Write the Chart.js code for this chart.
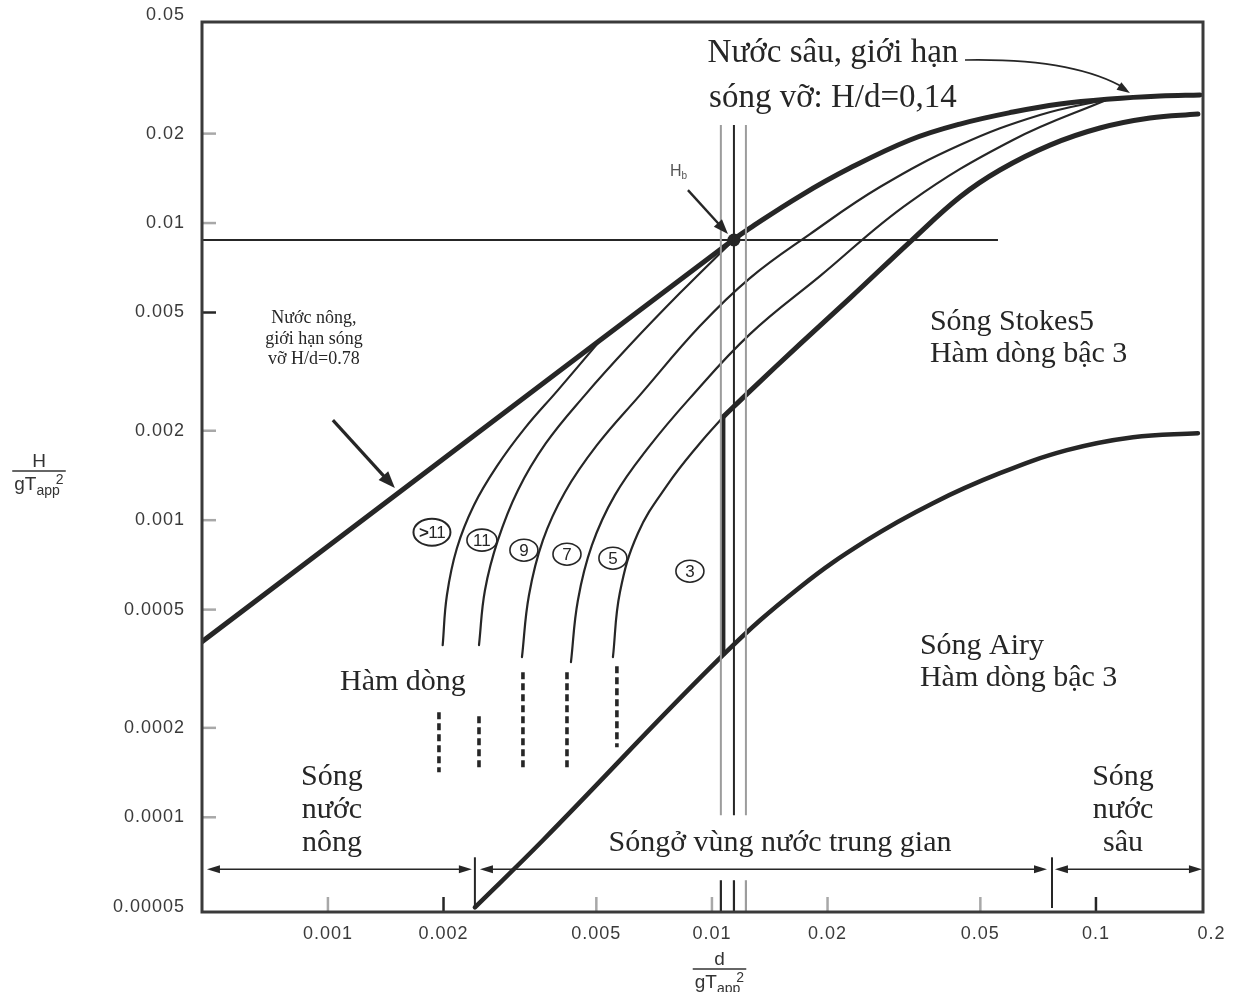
<!DOCTYPE html>
<html>
<head>
<meta charset="utf-8">
<script src="https://cdn.jsdelivr.net/npm/chart.js@4.4.1/dist/chart.umd.min.js"></script>
<style>
  html, body { margin: 0; padding: 0; background: #fff; }
  #wrap { width: 1238px; height: 992px; }
</style>
</head>
<body>
<div id="wrap"><canvas id="chart"></canvas></div>
<script>
/* ========= DATA ========= */
const xTicks = [0.001, 0.002, 0.005, 0.01, 0.02, 0.05, 0.1, 0.2];
const yTicks = [0.00005, 0.0001, 0.0002, 0.0005, 0.001, 0.002, 0.005, 0.01, 0.02, 0.05];
const darkXTicks = [0.002, 0.1];
const darkYTicks = [0.005];
const xRange = [0.00047, 0.19];
const yRange = [0.000048, 0.0475];

// breaking limit: H/d = 0.78 (shallow) -> H/d = 0.14 (deep)
const breakLimit = [[0.00047, 0.00039], [0.002315, 0.001859], [0.01134, 0.00877], [0.01256, 0.00962],
  [0.01695, 0.01233], [0.02288, 0.01531], [0.03278, 0.01904], [0.04423, 0.02154], [0.06079, 0.02364],
  [0.08057, 0.02516], [0.1088, 0.02616], [0.1468, 0.02677], [0.1866, 0.02698]];

// stream function order boundaries
const bound11 = [[0.00199, 0.0003794], [0.002041, 0.0005589], [0.002167, 0.0008047], [0.0024, 0.001123],
  [0.002755, 0.00152], [0.003258, 0.002041], [0.003972, 0.00274], [0.005048, 0.003945]];
const bound9 = [[0.002474, 0.0003794], [0.002564, 0.0005811], [0.002771, 0.0008565], [0.003125, 0.001262],
  [0.003695, 0.001816], [0.00467, 0.002636], [0.006116, 0.003884], [0.008254, 0.005811],
  [0.01134, 0.00872]];
const bound7 = [[0.003201, 0.0003457], [0.003338, 0.0005589], [0.00363, 0.0008565], [0.004142, 0.001242],
  [0.005017, 0.001788], [0.006494, 0.002636], [0.009304, 0.0045], [0.01256, 0.00653],
  [0.018, 0.00918], [0.02738, 0.01322], [0.04423, 0.0183], [0.07146, 0.0231], [0.1088, 0.0262]];
const bound5 = [[0.004294, 0.0003326], [0.004477, 0.0005378], [0.00487, 0.0008236], [0.005589, 0.001214],
  [0.006812, 0.001747], [0.008763, 0.002575], [0.01256, 0.00423], [0.01911, 0.006629],
  [0.03278, 0.01177], [0.06079, 0.01904], [0.1075, 0.0261]];
const bound3 = [[0.005523, 0.0003457], [0.00576, 0.0005722], [0.006416, 0.000904], [0.00768, 0.001322],
  [0.009304, 0.001816], [0.01068, 0.002222]];
const stokesLimit = [[0.01068, 0.002222], [0.01256, 0.002719], [0.01695, 0.003914], [0.02288, 0.005589],
  [0.03318, 0.008766], [0.04423, 0.01224], [0.05623, 0.01509], [0.0759, 0.0183],
  [0.1024, 0.02089], [0.1382, 0.02257], [0.1843, 0.02328]];
const stokesStep = [[0.01068, 0.002222], [0.01068, 0.0003512]];
const airyLimit = [[0.002414, 0.00004977], [0.00363, 0.0000837], [0.01068, 0.0003512], [0.01695, 0.0005949],
  [0.02533, 0.0008565], [0.03762, 0.001141], [0.05623, 0.001439], [0.08404, 0.001721],
  [0.1249, 0.001903], [0.1843, 0.001963]];

// dashed continuations of the stream function boundaries
const dashX = [0.001946, 0.002474, 0.00322, 0.004193, 0.005656];
const dashTop = [0.0002257, 0.0002188, 0.0003078, 0.0003078, 0.0003224];
const dashBottom = [0.0001418, 0.0001474, 0.0001474, 0.0001474, 0.0001721];

// breaking height point and guide lines
const hbPoint = [0.01141, 0.00877];
const hbLineX = [0.00047, 0.05557];
const guideX = [0.01055, 0.01141, 0.01226];
const guideDark = [false, true, false];
const guideSpan = [0.0001016, 0.02138];
const guideStub = [0.000048, 0.0000614];

// water depth zones
const zoneSplit = [0.002414, 0.07682];
const zoneArrows = [[0.0004841, 0.002371], [0.002488, 0.07456], [0.0782, 0.1888]];
const zoneArrowY = 0.00006681;
const zoneSplitTop = 0.00007334;

// circled order labels
const orderLabels = ['>11', '11', '9', '7', '5', '3'];
const orderX = [0.001866, 0.002518, 0.003239, 0.004193, 0.005523, 0.008763];
const orderY = [0.0009112, 0.0008565, 0.0007925, 0.0007683, 0.0007449, 0.0006734];

// text notes (data coordinates)
const notes = [
  { t: 'Nước sâu, giới hạn', x: 0.02066, y: 0.03736, size: 33, align: 'center' },
  { t: 'sóng vỡ: H/d=0,14', x: 0.02066, y: 0.02636, size: 33, align: 'center' },
  { t: 'Sóng Stokes5', x: 0.03695, y: 0.004642, size: 30, align: 'left' },
  { t: 'Hàm dòng bậc 3', x: 0.03695, y: 0.003622, size: 30, align: 'left' },
  { t: 'Sóng Airy', x: 0.0348, y: 0.0003765, size: 30, align: 'left' },
  { t: 'Hàm dòng bậc 3', x: 0.0348, y: 0.0002938, size: 30, align: 'left' },
  { t: 'Hàm dòng', x: 0.001075, y: 0.0002847, size: 30, align: 'left' },
  { t: 'Sóng', x: 0.001024, y: 0.0001364, size: 30, align: 'center' },
  { t: 'nước', x: 0.001024, y: 0.0001056, size: 30, align: 'center' },
  { t: 'nông', x: 0.001024, y: 0.00008174, size: 30, align: 'center' },
  { t: 'Sóng', x: 0.1176, y: 0.0001364, size: 30, align: 'center' },
  { t: 'nước', x: 0.1176, y: 0.0001056, size: 30, align: 'center' },
  { t: 'sâu', x: 0.1176, y: 0.00008174, size: 30, align: 'center' },
  { t: 'Sóngở vùng nước trung gian', x: 0.01504, y: 0.00008174, size: 30, align: 'center' },
  { t: 'Nước nông,', x: 0.0009194, y: 0.004787, size: 18, align: 'center' },
  { t: 'giới hạn sóng', x: 0.0009194, y: 0.004068, size: 18, align: 'center' },
  { t: 'vỡ H/d=0.78', x: 0.0009194, y: 0.003484, size: 18, align: 'center' }
];

// pointer arrows: [from, to]
const arrowShallow = [[0.00103, 0.002171], [0.001494, 0.001282]];
const arrowHb = [[0.00866, 0.01291], [0.01101, 0.00918]];
const arrowDeep = [[0.0456, 0.03538], [0.0881, 0.03594], [0.1226, 0.02741]]; // start, bend, end
const hbLabel = [0.007773, 0.01485];

/* ========= HELPERS ========= */
const INK = '#262626';
const GREY = '#9c9c9c';
const SERIF = '"Liberation Serif", "Times New Roman", serif';
const SANS = '"Liberation Sans", Arial, sans-serif';
const pts = arr => arr.map(([x, y]) => ({ x, y }));

function curve(arr, width) {
  return {
    data: pts(arr), borderColor: INK, borderWidth: width, pointRadius: 0,
    fill: false, tension: 0.4, borderCapStyle: 'round'
  };
}
function straight(arr, width, color, dash) {
  return {
    data: pts(arr), borderColor: color || INK, borderWidth: width, pointRadius: 0,
    fill: false, tension: 0, borderDash: dash || []
  };
}

const datasets = [];
guideX.forEach((gx, i) => {
  const c = guideDark[i] ? INK : GREY;
  datasets.push(straight([[gx, guideSpan[0]], [gx, guideSpan[1]]], 2, c));
  datasets.push(straight([[gx, guideStub[0]], [gx, guideStub[1]]], 2.2, i === 0 ? INK : c));
});
datasets.push(straight([[hbLineX[0], hbPoint[1]], [hbLineX[1], hbPoint[1]]], 2));
dashX.forEach((dx, i) => datasets.push(straight([[dx, dashTop[i]], [dx, dashBottom[i]]], 3.6, INK, [7, 4])));
[bound11, bound9, bound7, bound5, bound3].forEach(b => datasets.push(curve(b, 2.2)));
datasets.push(curve(stokesLimit, 5));
datasets.push(straight(stokesStep, 5));
datasets.push(curve(airyLimit, 4.5));
datasets.push(curve(breakLimit, 5));
datasets.push({ data: pts([hbPoint]), showLine: false, pointRadius: 6.5, pointBackgroundColor: INK, pointBorderWidth: 0 });

function arrowHead(ctx, x1, y1, x2, y2, len, half) {
  const a = Math.atan2(y2 - y1, x2 - x1), c = Math.cos(a), s = Math.sin(a);
  ctx.beginPath();
  ctx.moveTo(x2, y2);
  ctx.lineTo(x2 - len * c + half * s, y2 - len * s - half * c);
  ctx.lineTo(x2 - len * c - half * s, y2 - len * s + half * c);
  ctx.closePath();
  ctx.fill();
}

function fraction(ctx, cx, lineY, num) {
  ctx.fillStyle = '#333';
  ctx.strokeStyle = '#333';
  ctx.textBaseline = 'alphabetic';
  ctx.font = '19px ' + SANS;
  ctx.textAlign = 'center';
  ctx.fillText(num, cx, lineY - 4);
  const w1 = ctx.measureText('gT').width;
  ctx.font = '14px ' + SANS;
  const w2 = ctx.measureText('app').width;
  const total = w1 + w2 + 4;
  const x0 = cx - total / 2;
  ctx.textAlign = 'left';
  ctx.font = '19px ' + SANS;
  ctx.fillText('gT', x0, lineY + 19);
  ctx.font = '14px ' + SANS;
  ctx.fillText('app', x0 + w1, lineY + 24);
  ctx.fillText('2', x0 + w1 + w2 - 4, lineY + 13);
  ctx.lineWidth = 1.6;
  ctx.beginPath();
  ctx.moveTo(x0 - 2, lineY);
  ctx.lineTo(x0 + total + 2, lineY);
  ctx.stroke();
}

/* ========= DECORATION PLUGIN ========= */
const decor = {
  id: 'decor',
  beforeDraw(chart) { chart.ctx.letterSpacing = '1px'; },
  afterDraw(chart) {
    const ctx = chart.ctx, a = chart.chartArea;
    const sx = chart.scales.x, sy = chart.scales.y;
    const P = (x, y) => [sx.getPixelForValue(x), sy.getPixelForValue(y)];
    ctx.save();
    ctx.letterSpacing = '0px';

    // inward tick marks
    ctx.lineWidth = 2.5;
    yTicks.forEach(v => {
      if (v <= yRange[0] * 1.1 || v >= yRange[1]) return;
      const y = sy.getPixelForValue(v);
      ctx.strokeStyle = darkYTicks.includes(v) ? INK : '#a8a8a8';
      ctx.beginPath(); ctx.moveTo(a.left, y); ctx.lineTo(a.left + 14, y); ctx.stroke();
    });
    xTicks.forEach(v => {
      if (v <= xRange[0] || v >= xRange[1]) return;
      const x = sx.getPixelForValue(v);
      ctx.strokeStyle = darkXTicks.includes(v) ? INK : '#a8a8a8';
      ctx.beginPath(); ctx.moveTo(x, a.bottom); ctx.lineTo(x, a.bottom - 15); ctx.stroke();
    });

    // zone separators and double arrows
    ctx.strokeStyle = INK; ctx.fillStyle = INK;
    ctx.lineWidth = 2;
    zoneSplit.forEach(v => {
      const [x, y1] = P(v, zoneSplitTop);
      ctx.beginPath(); ctx.moveTo(x, y1); ctx.lineTo(x, a.bottom - 4); ctx.stroke();
    });
    ctx.lineWidth = 1.5;
    zoneArrows.forEach(([l, r]) => {
      const [x1, y] = P(l, zoneArrowY), [x2] = P(r, zoneArrowY);
      ctx.beginPath(); ctx.moveTo(x1 + 8, y); ctx.lineTo(x2 - 8, y); ctx.stroke();
      arrowHead(ctx, x2 - 20, y, x2, y, 13, 4);
      arrowHead(ctx, x1 + 20, y, x1, y, 13, 4);
    });

    // pointer arrows
    [[arrowShallow, 3.2, 17, 6.5], [arrowHb, 2.4, 15, 5.5]].forEach(([ar, w, len, half]) => {
      const [x1, y1] = P(...ar[0]), [x2, y2] = P(...ar[1]);
      const ang = Math.atan2(y2 - y1, x2 - x1);
      ctx.lineWidth = w;
      ctx.beginPath(); ctx.moveTo(x1, y1);
      ctx.lineTo(x2 - len * 0.8 * Math.cos(ang), y2 - len * 0.8 * Math.sin(ang)); ctx.stroke();
      arrowHead(ctx, x1, y1, x2, y2, len, half);
    });
    {
      const [x1, y1] = P(...arrowDeep[0]), [cx, cy] = P(...arrowDeep[1]), [x2, y2] = P(...arrowDeep[2]);
      ctx.lineWidth = 1.6;
      ctx.beginPath(); ctx.moveTo(x1, y1); ctx.quadraticCurveTo(cx, cy, x2 - 4, y2 - 4); ctx.stroke();
      arrowHead(ctx, cx, cy, x2, y2, 13, 4.5);
    }

    // circled order labels
    orderLabels.forEach((lab, i) => {
      const [x, y] = P(orderX[i], orderY[i]);
      const rx = lab.length > 2 ? 18.5 : lab.length > 1 ? 15 : 14;
      ctx.lineWidth = lab.length > 2 ? 2 : 1.6;
      ctx.beginPath(); ctx.ellipse(x, y, rx, lab.length > 2 ? 13.5 : 11, 0, 0, Math.PI * 2); ctx.stroke();
      ctx.textBaseline = 'middle';
      ctx.textAlign = 'center';
      if (lab.startsWith('>')) {
        ctx.font = 'bold 17px ' + SANS;
        ctx.fillText('>', x - 8, y + 1);
        ctx.font = '17px ' + SANS;
        ctx.fillText(lab.slice(1), x + 5, y + 1);
      } else {
        ctx.font = '17px ' + SANS;
        ctx.fillText(lab, x, y + 1);
      }
    });

    // H_b label
    {
      const [x, y] = P(...hbLabel);
      ctx.fillStyle = '#555';
      ctx.textAlign = 'left'; ctx.textBaseline = 'middle';
      ctx.font = '16px ' + SANS;
      ctx.fillText('H', x, y);
      const w = ctx.measureText('H').width;
      ctx.font = '10px ' + SANS;
      ctx.fillText('b', x + w, y + 4);
    }

    // text notes
    ctx.fillStyle = INK;
    ctx.textBaseline = 'middle';
    notes.forEach(n => {
      const [x, y] = P(n.x, n.y);
      ctx.font = n.size + 'px ' + SERIF;
      ctx.textAlign = n.align;
      ctx.fillText(n.t, x, y);
    });

    // axis titles as fractions
    fraction(ctx, a.left - 163, (a.top + a.bottom) / 2 + 4, 'H');
    fraction(ctx, (a.left + a.right) / 2 + 17, a.bottom + 57, 'd');

    // frame
    ctx.strokeStyle = '#3a3a3a';
    ctx.lineWidth = 3;
    ctx.strokeRect(a.left, a.top, a.right - a.left, a.bottom - a.top);
    ctx.restore();
  }
};

/* ========= CHART ========= */
const tickFont = { family: SANS, size: 18 };
new Chart(document.getElementById('chart'), {
  type: 'line',
  data: { datasets },
  options: {
    responsive: true,
    maintainAspectRatio: false,
    animation: false,
    events: [],
    layout: { padding: { left: 0, right: 35, top: 22, bottom: 0 } },
    plugins: { legend: { display: false }, tooltip: { enabled: false } },
    scales: {
      x: {
        type: 'logarithmic', min: xRange[0], max: xRange[1],
        afterBuildTicks: s => { s.ticks = xTicks.map(v => ({ value: v })); },
        afterFit: s => { s.height = 80; s.paddingLeft = 0; s.paddingRight = 0; },
        grid: { display: false, drawTicks: false },
        border: { display: false },
        ticks: { autoSkip: false, maxRotation: 0, padding: 11, color: '#3a3a3a', font: tickFont,
          callback: v => String(v) }
      },
      y: {
        type: 'logarithmic', min: yRange[0], max: yRange[1],
        afterBuildTicks: s => { s.ticks = yTicks.map(v => ({ value: v })); },
        afterFit: s => { s.width = 202; s.paddingTop = 0; s.paddingBottom = 0; },
        grid: { display: false, drawTicks: false },
        border: { display: false },
        ticks: { autoSkip: false, padding: 17, color: '#3a3a3a', font: tickFont,
          callback: v => String(v) }
      }
    }
  },
  plugins: [decor]
});
</script>
</body>
</html>
